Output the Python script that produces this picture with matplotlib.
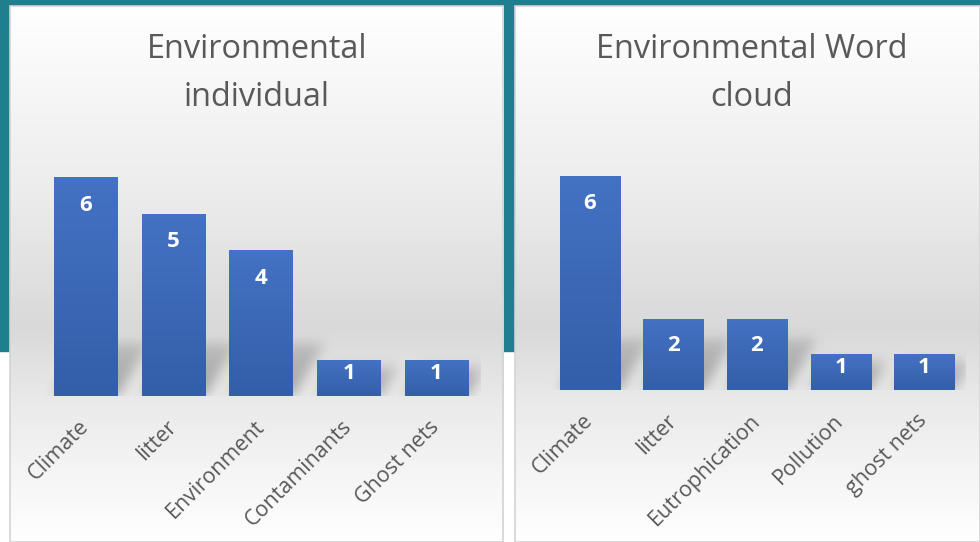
import numpy as np
import matplotlib.pyplot as plt
from matplotlib.patches import Rectangle
from matplotlib.colors import to_rgb

# data
cats_left = ['Climate', 'litter', 'Environment', 'Contaminants', 'Ghost nets']
vals_left = [6, 5, 4, 1, 1]
title_left = 'Environmental\nindividual'
cats_right = ['Climate', 'litter', 'Eutrophication', 'Pollution', 'ghost nets']
vals_right = [6, 2, 2, 1, 1]
title_right = 'Environmental Word\ncloud'

plt.rcParams['font.family'] = ['Open Sans', 'DejaVu Sans']
W, H = 980, 542
teal = '#1f7f8f'
txt = '#595959'

fig = plt.figure(figsize=(W/100, H/100), dpi=100)
bg = fig.add_axes([0, 0, 1, 1])
bg.set_xlim(0, W)
bg.set_ylim(H, 0)
bg.axis('off')

bg.add_patch(Rectangle((0, 0), W, 351, color=teal, zorder=0))

def vgrad(stops, n=300):
    pos = np.linspace(0, 1, n)
    ps = [s[0] for s in stops]
    cs = np.array([to_rgb(s[1]) for s in stops])
    col = np.stack([np.interp(pos, ps, cs[:, k]) for k in range(3)], axis=1)
    return col[:, None, :]

panel_grad = vgrad([(0, '#ffffff'), (0.35, '#ececec'), (0.6, '#d9d9d9'), (0.75, '#ebebeb'), (1, '#ffffff')])
for x0, x1 in [(10, 503), (515, 980)]:
    bg.imshow(panel_grad, extent=[x0, x1, H, 6], aspect='auto', zorder=1)
    bg.add_patch(Rectangle((x0, 6), x1 - x0, H - 6, fill=False, edgecolor='#d4d4d4', lw=1.2, zorder=2))

bar_grad = vgrad([(0, '#4472c4'), (1, '#335ea8')])

def blur(a, sigma):
    r = int(3 * sigma)
    k = np.exp(-0.5 * (np.arange(-r, r + 1) / sigma) ** 2)
    k /= k.sum()
    a = np.apply_along_axis(lambda m: np.convolve(m, k, mode='same'), 0, a)
    a = np.apply_along_axis(lambda m: np.convolve(m, k, mode='same'), 1, a)
    return a

def chart(cats, vals, title, left, right, base, ppu, tx):
    top = base - 7 * ppu
    ax = fig.add_axes([left/W, 1 - base/H, (right-left)/W, (base-top)/H])
    n = len(cats)
    ax.patch.set_visible(False)
    for s in ax.spines.values():
        s.set_visible(False)
    ax.set_yticks([])
    bw = 0.72
    # blurred shadow layer behind the bars
    ys0, ys1 = -0.1, 2.0
    nx, ny = int(right - left), int((ys1 - ys0) * ppu)
    gx = np.linspace(-0.5, n - 0.5, nx)
    gy = np.linspace(ys1, ys0, ny)
    X, Y = np.meshgrid(gx, gy)
    mask = np.zeros_like(X)
    for i, v in enumerate(vals):
        h = min(1.45, 0.8 * v)
        dx = 0.25 * h
        t = np.clip(Y / h, 0, 1)
        inside = (Y >= 0) & (Y <= h) & (X >= i - bw/2 + dx*t) & (X <= i + bw/2 + dx*t)
        mask = np.maximum(mask, inside * (1 - 0.5 * t))
    mask = blur(mask, 6)
    sh = np.zeros((ny, nx, 4))
    sh[..., :3] = 0.3
    sh[..., 3] = 0.45 * mask
    ax.imshow(sh, extent=[-0.5, n - 0.5, ys0, ys1], aspect='auto', zorder=1)
    bars = ax.bar(range(n), vals, width=bw, color='#4472c4', zorder=2)
    for b, v in zip(bars, vals):
        x0 = b.get_x()
        im = ax.imshow(bar_grad, extent=[x0, x0 + b.get_width(), 0, v], aspect='auto', zorder=3)
        im.set_clip_path(b)
        off = min(0.77, 0.38 * v)
        ax.text(b.get_x() + b.get_width()/2, v - off, str(v), ha='center', va='center',
                color='white', fontsize=16, fontweight='bold', zorder=4)
    ax.set_xlim(-0.5, n - 0.5)
    ax.set_ylim(0, 7)
    ax.set_xticks(range(n))
    ax.set_xticklabels(cats, rotation=45, ha='right', va='center', rotation_mode='anchor',
                       fontsize=15.5, color=txt)
    ax.tick_params(axis='x', length=0, pad=20)
    fig.text(tx/W, 1 - 74/H, title, ha='center', va='center', fontsize=23.4,
             color=txt, linespacing=1.6)

chart(cats_left, vals_left, title_left, 42, 480, 396, 36.5, 257)
chart(cats_right, vals_right, title_right, 548, 966, 390, 35.67, 752)

fig.savefig('out.png', dpi=100)
